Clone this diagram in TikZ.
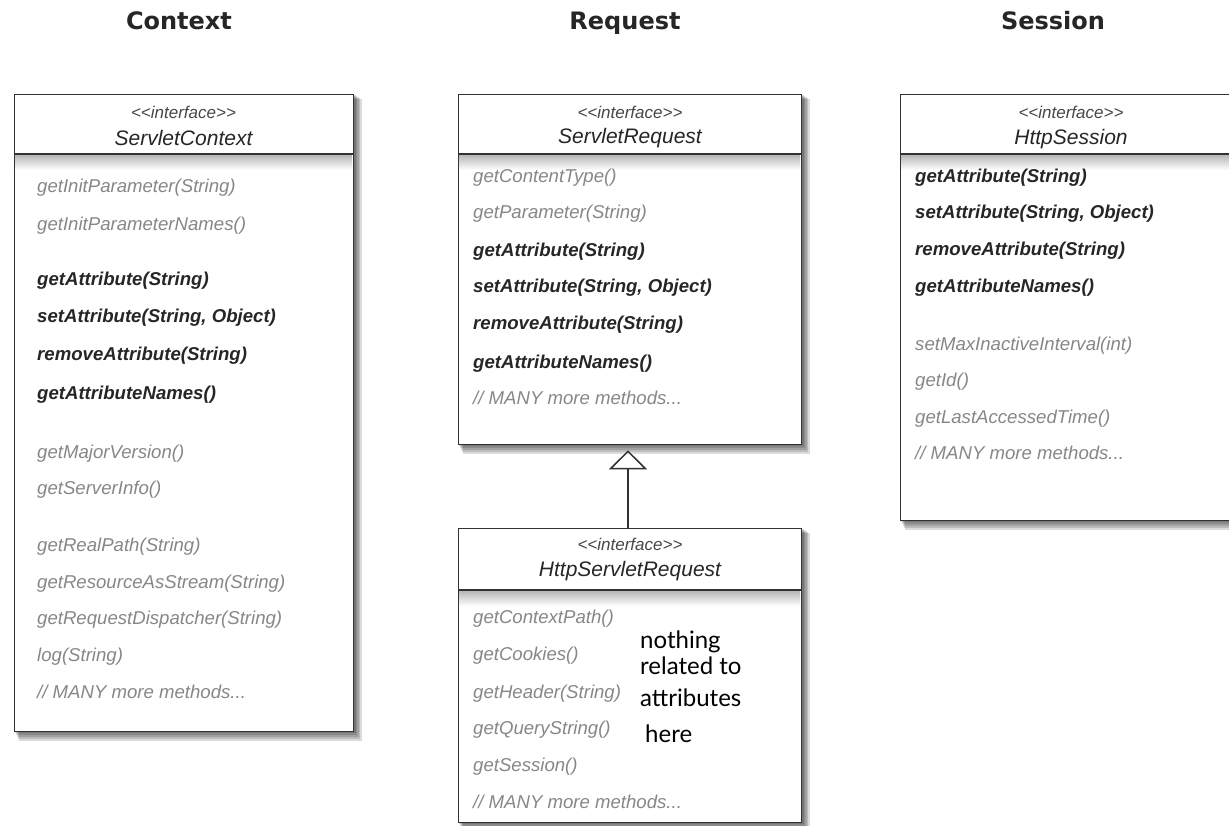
\documentclass[tikz,border=0pt]{standalone}
\usepackage{fontspec}
\setmainfont{Liberation Sans}
\newfontfamily\titlefont{DejaVu Sans}
\newfontfamily\handfont{Lato}
\usetikzlibrary{arrows.meta}
\definecolor{lighttxt}{RGB}{135,135,135}
\definecolor{darktxt}{RGB}{38,38,38}
\definecolor{edgecol}{RGB}{50,50,50}
\newcommand\myshadow[4]{%
  \foreach \k in {1,...,5}{%
    \fill[black,opacity=0.14] (#1+\k,#2+\k) rectangle (#3+1.6*\k+1,#4+2*\k);}%
}
\tikzset{
  umlbox/.style={draw=edgecol, line width=1.3pt, fill=white, anchor=north west, inner sep=0pt},
  divline/.style={draw=edgecol, line width=1.3pt},
  sectitle/.style={font=\titlefont\bfseries\fontsize{24}{28}\selectfont, text=darktxt, anchor=base},
  stereo/.style={font=\itshape\fontsize{17}{19}\selectfont, text=darktxt!85, anchor=center, inner sep=0pt},
  iname/.style={font=\itshape\fontsize{21}{24}\selectfont, text=darktxt, anchor=center, inner sep=0pt},
  mlight/.style={font=\itshape\fontsize{18.6}{20}\selectfont, text=lighttxt, anchor=base west, inner sep=0pt},
  mbold/.style={font=\bfseries\itshape\fontsize{18.6}{20}\selectfont, text=darktxt, anchor=base west, inner sep=0pt},
  hand/.style={font=\handfont\fontsize{24}{26}\selectfont, text=black, anchor=base west, inner sep=0pt},
  inherit/.style={draw=edgecol, line width=1.5pt, -{Triangle[open, length=19pt, width=38pt, line width=1.5pt]}},
}
\newcommand\stereotext{<{}<interface>{}>}
\begin{document}
\begin{tikzpicture}[x=1pt, y=-1pt]
\fill[white] (0,0) rectangle (1229,826);
\useasboundingbox (0,0) rectangle (1229,826);

% section titles
\node[sectitle] (t1) at (179,30) {Context};
\node[sectitle] (t2) at (625,30) {Request};
\node[sectitle] (t3) at (1053,30) {Session};

% ---------------- ServletContext ----------------
\myshadow{14}{94}{353}{731}
\node[umlbox, minimum width=339pt, minimum height=637pt] (ctx) at (14,94) {};
\shade[top color=black!28, bottom color=white] (15,155) rectangle (352,170);
\draw[divline] (ctx.west |- 0,154) -- (ctx.east |- 0,154);
\node[stereo] (ctxs) at (183.5,112) {\stereotext};
\node[iname] (ctxn) at (183.5,138) {ServletContext};
\node[mlight] (c1) at (37,193) {getInitParameter(String)};
\node[mlight] (c2) at (37,231) {getInitParameterNames()};
\node[mbold] (c3) at (37,286) {getAttribute(String)};
\node[mbold] (c4) at (37,323) {setAttribute(String, Object)};
\node[mbold] (c5) at (37,360) {removeAttribute(String)};
\node[mbold] (c6) at (37,399) {getAttributeNames()};
\node[mlight] (c7) at (37,458) {getMajorVersion()};
\node[mlight] (c8) at (37,494) {getServerInfo()};
\node[mlight] (c9) at (37,551) {getRealPath(String)};
\node[mlight] (c10) at (37,588) {getResourceAsStream(String)};
\node[mlight] (c11) at (37,624) {getRequestDispatcher(String)};
\node[mlight] (c12) at (37,661) {log(String)};
\node[mlight] (c13) at (37,698) {// MANY more methods...};

% ---------------- ServletRequest ----------------
\myshadow{458}{94}{801}{444}
\node[umlbox, minimum width=343pt, minimum height=350pt] (req) at (458,94) {};
\shade[top color=black!28, bottom color=white] (459,155) rectangle (800,170);
\draw[divline] (req.west |- 0,154) -- (req.east |- 0,154);
\node[stereo] (reqs) at (630,112) {\stereotext};
\node[iname] (reqn) at (630,138) {ServletRequest};
\node[mlight] (r1) at (473,183) {getContentType()};
\node[mlight] (r2) at (473,219) {getParameter(String)};
\node[mbold] (r3) at (473,257) {getAttribute(String)};
\node[mbold] (r4) at (473,293) {setAttribute(String, Object)};
\node[mbold] (r5) at (473,330) {removeAttribute(String)};
\node[mbold] (r6) at (473,368) {getAttributeNames()};
\node[mlight] (r7) at (473,404) {// MANY more methods...};

% ---------------- HttpServletRequest ----------------
\myshadow{458}{528}{801}{822}
\node[umlbox, minimum width=343pt, minimum height=294pt] (hreq) at (458,528) {};
\shade[top color=black!28, bottom color=white] (459,591) rectangle (800,606);
\draw[divline] (hreq.west |- 0,590) -- (hreq.east |- 0,590);
\node[stereo] (hreqs) at (630,544) {\stereotext};
\node[iname] (hreqn) at (630,571) {HttpServletRequest};
\node[mlight] (h1) at (473,623) {getContextPath()};
\node[mlight] (h2) at (473,660) {getCookies()};
\node[mlight] (h3) at (473,698) {getHeader(String)};
\node[mlight] (h4) at (473,734) {getQueryString()};
\node[mlight] (h5) at (473,771) {getSession()};
\node[mlight] (h6) at (473,808) {// MANY more methods...};
\node[hand] (n1) at (640,648) {nothing};
\node[hand] (n2) at (640,674) {related to};
\node[hand] (n3) at (640,706) {attributes};
\node[hand] (n4) at (645,742) {here};

\draw[inherit] (hreq.north -| 628,0) -- ([yshift=-5pt]req.south -| 628,0);

% ---------------- HttpSession ----------------
\myshadow{900}{94}{1242}{520}
\node[umlbox, minimum width=342pt, minimum height=426pt] (sess) at (900,94) {};
\shade[top color=black!28, bottom color=white] (901,155) rectangle (1241,170);
\draw[divline] (sess.west |- 0,154) -- (sess.east |- 0,154);
\node[stereo] (sesss) at (1071,112) {\stereotext};
\node[iname] (sessn) at (1071,139) {HttpSession};
\node[mbold] (s1) at (915,183) {getAttribute(String)};
\node[mbold] (s2) at (915,219) {setAttribute(String, Object)};
\node[mbold] (s3) at (915,256) {removeAttribute(String)};
\node[mbold] (s4) at (915,293) {getAttributeNames()};
\node[mlight] (s5) at (915,350) {setMaxInactiveInterval(int)};
\node[mlight] (s6) at (915,386) {getId()};
\node[mlight] (s7) at (915,423) {getLastAccessedTime()};
\node[mlight] (s8) at (915,459) {// MANY more methods...};
\end{tikzpicture}
\end{document}
